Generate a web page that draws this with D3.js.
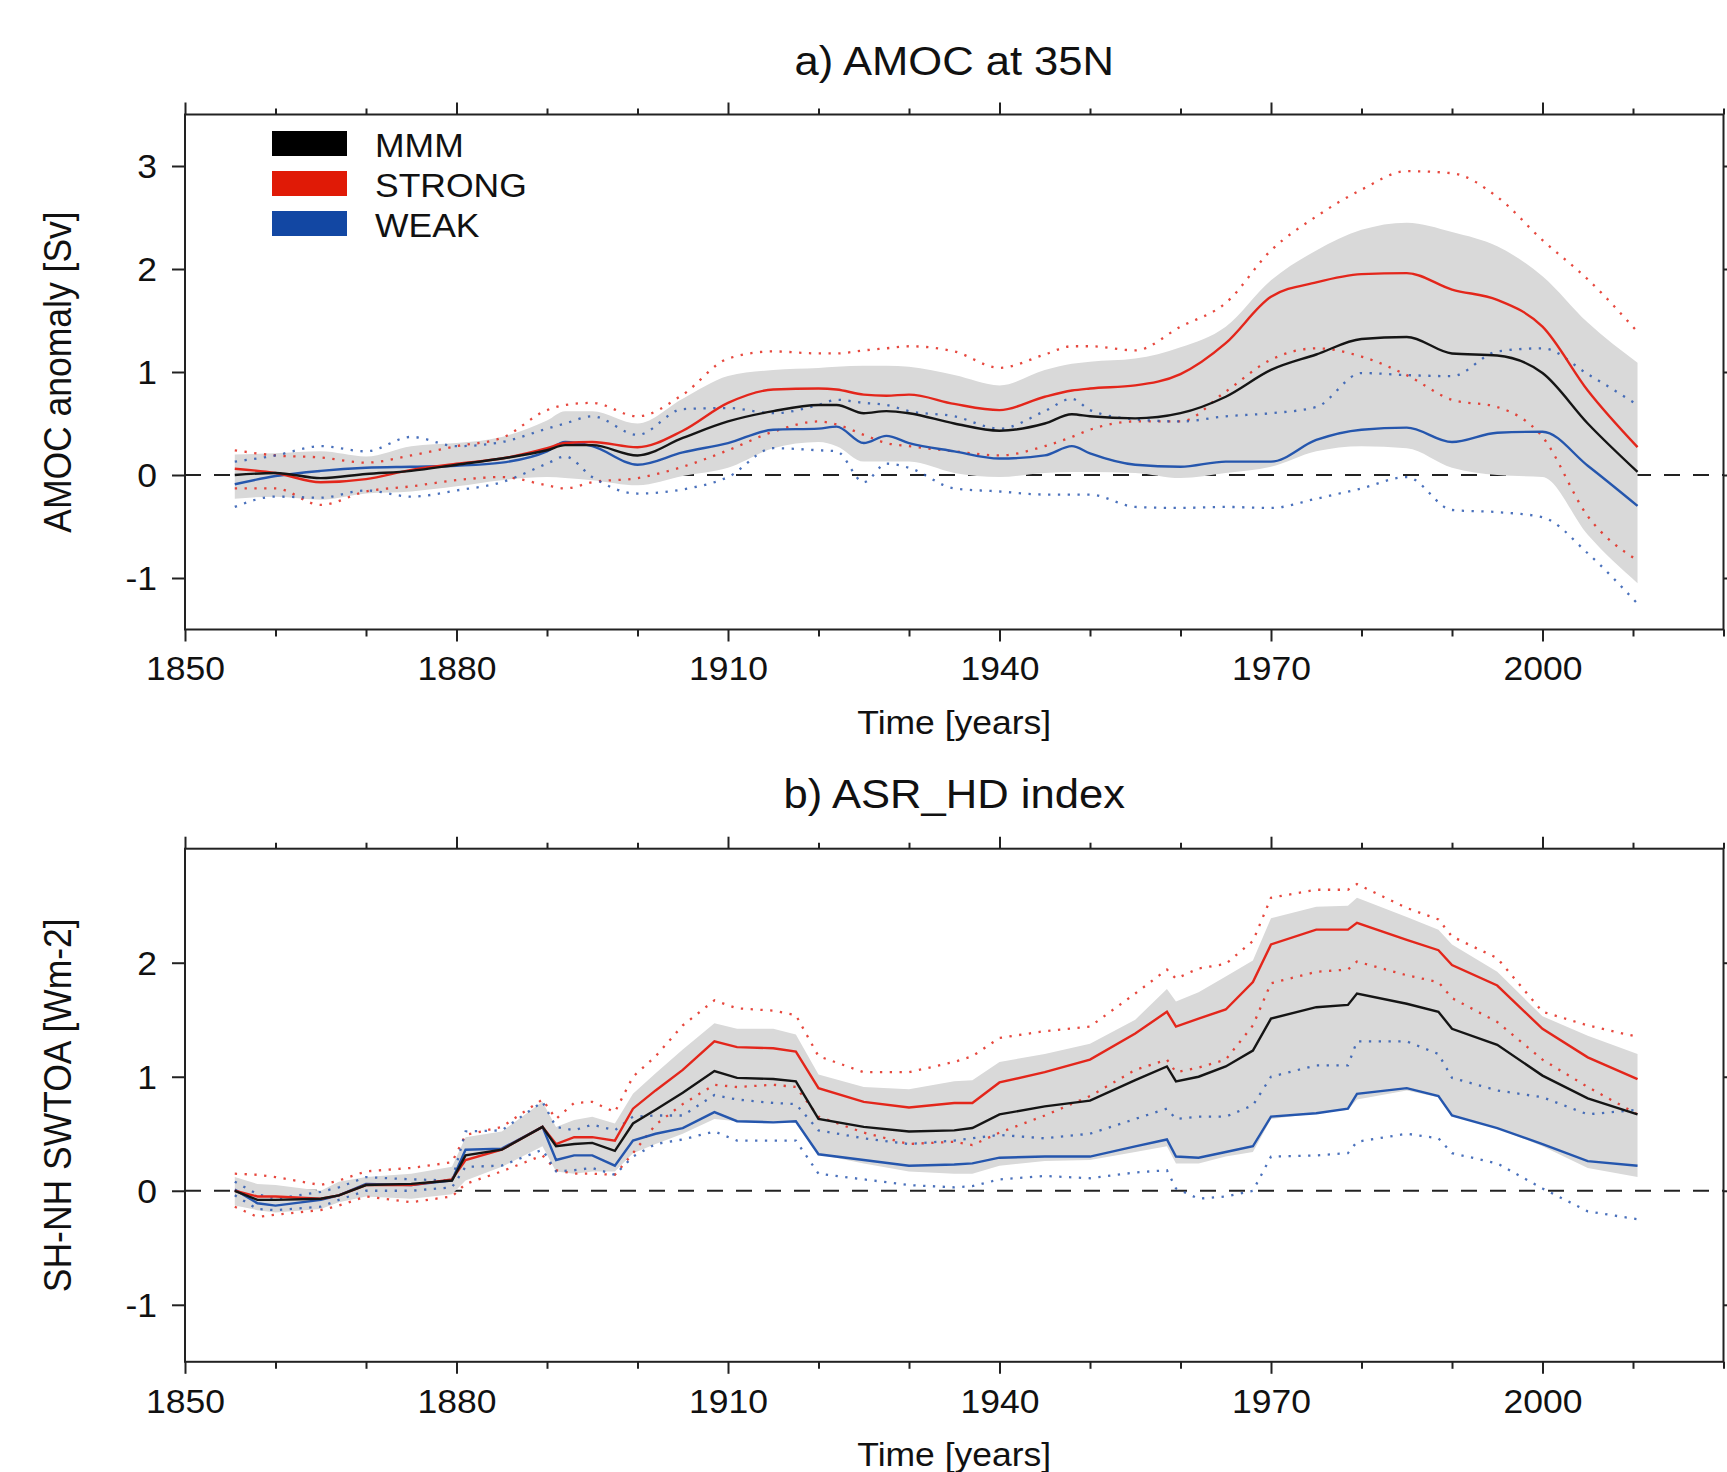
<!DOCTYPE html>
<html>
<head>
<meta charset="utf-8">
<script src="https://cdn.jsdelivr.net/npm/d3@7"></script>
<style>
  body { margin: 0; background: #fff; }
  svg { display: block; font-family: "Liberation Sans", Arial, sans-serif; }
</style>
</head>
<body>
<script>
// ---- panel a: AMOC at 35N ----
const amocYears = [1855.5, 1860, 1865, 1870, 1875, 1880, 1885, 1890, 1892, 1895, 1900, 1905, 1910, 1915, 1920, 1922, 1925, 1927.5, 1930, 1935, 1940, 1945, 1948, 1950, 1955, 1960, 1965, 1970, 1975, 1980, 1985, 1990, 1995, 2000, 2005, 2010.5];
const amocMMM = [0, 0.02, -0.03, 0.01, 0.04, 0.10, 0.16, 0.24, 0.29, 0.29, 0.19, 0.36, 0.52, 0.62, 0.68, 0.68, 0.60, 0.62, 0.60, 0.50, 0.43, 0.50, 0.59, 0.57, 0.55, 0.60, 0.76, 1.02, 1.17, 1.32, 1.34, 1.18, 1.16, 0.99, 0.50, 0.03];
const amocStrong = [0.06, 0.02, -0.07, -0.04, 0.05, 0.11, 0.16, 0.26, 0.31, 0.32, 0.27, 0.43, 0.70, 0.83, 0.84, 0.83, 0.78, 0.77, 0.78, 0.69, 0.63, 0.76, 0.82, 0.84, 0.87, 0.98, 1.28, 1.73, 1.87, 1.95, 1.96, 1.80, 1.70, 1.44, 0.82, 0.27];
const amocWeak = [-0.09, -0.01, 0.04, 0.07, 0.08, 0.09, 0.12, 0.23, 0.32, 0.28, 0.10, 0.22, 0.31, 0.44, 0.45, 0.47, 0.31, 0.38, 0.31, 0.23, 0.16, 0.19, 0.28, 0.21, 0.10, 0.08, 0.13, 0.13, 0.34, 0.44, 0.46, 0.32, 0.41, 0.42, 0.09, -0.30];
const amocBandHi = [0.20, 0.21, 0.23, 0.18, 0.28, 0.31, 0.37, 0.53, 0.62, 0.62, 0.50, 0.74, 0.96, 1.02, 1.04, 1.05, 1.06, 1.06, 1.05, 0.97, 0.87, 1.02, 1.08, 1.10, 1.13, 1.24, 1.44, 1.89, 2.18, 2.38, 2.45, 2.36, 2.22, 1.93, 1.48, 1.09];
const amocBandLo = [-0.23, -0.21, -0.24, -0.18, -0.16, -0.11, -0.05, -0.02, -0.03, -0.05, -0.10, -0.01, 0.07, 0.26, 0.32, 0.28, 0.13, 0.13, 0.13, 0.02, -0.02, 0.02, 0.03, 0.03, 0.02, -0.03, 0.02, 0.08, 0.23, 0.28, 0.26, 0.07, 0.00, -0.02, -0.58, -1.05];
const amocStrongHi = [0.24, 0.19, 0.17, 0.12, 0.19, 0.28, 0.36, 0.63, 0.68, 0.70, 0.57, 0.78, 1.13, 1.20, 1.18, 1.18, 1.21, 1.23, 1.25, 1.20, 1.04, 1.17, 1.25, 1.25, 1.21, 1.44, 1.67, 2.18, 2.51, 2.77, 2.95, 2.93, 2.70, 2.28, 1.90, 1.39];
const amocStrongLo = [-0.13, -0.13, -0.29, -0.16, -0.11, -0.05, -0.02, -0.10, -0.13, -0.07, -0.03, 0.08, 0.24, 0.42, 0.52, 0.49, 0.39, 0.31, 0.28, 0.23, 0.19, 0.28, 0.37, 0.44, 0.52, 0.52, 0.81, 1.12, 1.23, 1.15, 0.97, 0.73, 0.66, 0.37, -0.40, -0.83];
const amocWeakHi = [0.13, 0.19, 0.28, 0.23, 0.37, 0.28, 0.32, 0.45, 0.50, 0.57, 0.39, 0.64, 0.65, 0.60, 0.68, 0.73, 0.70, 0.68, 0.62, 0.57, 0.45, 0.62, 0.74, 0.63, 0.54, 0.52, 0.57, 0.60, 0.66, 0.99, 0.97, 0.96, 1.20, 1.23, 0.98, 0.68];
const amocWeakLo = [-0.31, -0.21, -0.22, -0.15, -0.21, -0.15, -0.07, 0.11, 0.18, -0.02, -0.18, -0.14, -0.02, 0.26, 0.24, 0.23, -0.07, 0.11, 0.07, -0.13, -0.16, -0.19, -0.19, -0.19, -0.31, -0.32, -0.31, -0.32, -0.23, -0.13, -0.02, -0.34, -0.36, -0.41, -0.76, -1.25];

// ---- panel b: ASR_HD index ----
const asrYears = [1855.5, 1858, 1860, 1865, 1867, 1870, 1875, 1879.5, 1881, 1885, 1889.5, 1891, 1893, 1895, 1897.5, 1899.5, 1902, 1905, 1908.5, 1911, 1915, 1917.5, 1920, 1925, 1930, 1935, 1937, 1940, 1945, 1950, 1955, 1958.5, 1959.5, 1962, 1965, 1968, 1970, 1975, 1978.5, 1979.5, 1985, 1988.5, 1990, 1995, 2000, 2005, 2010.5];
const asrMMM = [0.00, -0.08, -0.08, -0.07, -0.04, 0.05, 0.06, 0.09, 0.31, 0.36, 0.56, 0.39, 0.41, 0.42, 0.35, 0.59, 0.71, 0.86, 1.05, 0.99, 0.98, 0.96, 0.63, 0.56, 0.52, 0.53, 0.55, 0.67, 0.74, 0.79, 0.97, 1.09, 0.96, 1.00, 1.09, 1.23, 1.51, 1.61, 1.63, 1.73, 1.64, 1.57, 1.42, 1.28, 1.01, 0.81, 0.67];
const asrStrong = [0.00, -0.05, -0.05, -0.07, -0.04, 0.05, 0.05, 0.10, 0.27, 0.36, 0.56, 0.41, 0.47, 0.47, 0.44, 0.72, 0.88, 1.06, 1.31, 1.26, 1.25, 1.22, 0.90, 0.78, 0.73, 0.77, 0.77, 0.95, 1.04, 1.15, 1.38, 1.57, 1.44, 1.51, 1.59, 1.83, 2.16, 2.29, 2.29, 2.35, 2.20, 2.11, 1.98, 1.80, 1.42, 1.17, 0.98];
const asrWeak = [0.01, -0.11, -0.13, -0.08, -0.04, 0.06, 0.05, 0.09, 0.36, 0.37, 0.56, 0.27, 0.31, 0.31, 0.22, 0.44, 0.50, 0.55, 0.69, 0.61, 0.60, 0.61, 0.32, 0.27, 0.22, 0.23, 0.24, 0.29, 0.30, 0.30, 0.39, 0.45, 0.30, 0.29, 0.34, 0.39, 0.65, 0.68, 0.72, 0.85, 0.90, 0.83, 0.66, 0.55, 0.41, 0.26, 0.22];
const asrBandHi = [0.12, 0.06, 0.05, 0.00, 0.08, 0.12, 0.15, 0.21, 0.47, 0.52, 0.78, 0.56, 0.62, 0.65, 0.59, 0.85, 1.03, 1.24, 1.47, 1.42, 1.42, 1.37, 1.02, 0.91, 0.89, 0.96, 0.97, 1.13, 1.20, 1.29, 1.50, 1.77, 1.66, 1.74, 1.88, 2.02, 2.39, 2.49, 2.50, 2.57, 2.40, 2.29, 2.16, 1.92, 1.53, 1.36, 1.20];
const asrBandLo = [-0.13, -0.17, -0.19, -0.16, -0.10, -0.05, -0.07, -0.03, 0.09, 0.21, 0.39, 0.17, 0.15, 0.17, 0.17, 0.33, 0.41, 0.50, 0.63, 0.61, 0.60, 0.60, 0.32, 0.24, 0.17, 0.15, 0.15, 0.22, 0.26, 0.27, 0.34, 0.39, 0.24, 0.24, 0.30, 0.34, 0.63, 0.68, 0.71, 0.80, 0.88, 0.82, 0.66, 0.55, 0.39, 0.20, 0.12];
const asrStrongHi = [0.15, 0.14, 0.12, 0.05, 0.09, 0.17, 0.20, 0.25, 0.49, 0.56, 0.80, 0.63, 0.77, 0.78, 0.69, 1.00, 1.18, 1.45, 1.67, 1.60, 1.58, 1.54, 1.18, 1.04, 1.04, 1.13, 1.18, 1.34, 1.40, 1.44, 1.73, 1.94, 1.86, 1.95, 1.99, 2.19, 2.57, 2.64, 2.64, 2.69, 2.48, 2.38, 2.23, 2.04, 1.57, 1.45, 1.35];
const asrStrongLo = [-0.14, -0.23, -0.21, -0.17, -0.13, -0.05, -0.10, -0.05, 0.06, 0.17, 0.31, 0.18, 0.15, 0.15, 0.14, 0.33, 0.58, 0.76, 0.93, 0.91, 0.93, 0.91, 0.65, 0.51, 0.41, 0.43, 0.40, 0.51, 0.66, 0.83, 1.06, 1.15, 1.04, 1.08, 1.15, 1.45, 1.82, 1.92, 1.94, 2.01, 1.89, 1.83, 1.69, 1.48, 1.15, 0.91, 0.67];
const asrWeakHi = [0.08, -0.03, -0.07, -0.01, 0.03, 0.12, 0.10, 0.09, 0.52, 0.53, 0.78, 0.56, 0.53, 0.58, 0.53, 0.65, 0.66, 0.66, 0.84, 0.80, 0.77, 0.76, 0.53, 0.46, 0.41, 0.44, 0.46, 0.49, 0.46, 0.50, 0.63, 0.72, 0.63, 0.65, 0.65, 0.75, 1.00, 1.10, 1.10, 1.31, 1.31, 1.20, 0.99, 0.88, 0.82, 0.67, 0.71];
const asrWeakLo = [-0.04, -0.16, -0.17, -0.14, -0.08, 0.00, 0.00, 0.03, 0.21, 0.22, 0.36, 0.17, 0.18, 0.20, 0.14, 0.30, 0.41, 0.45, 0.52, 0.44, 0.44, 0.44, 0.15, 0.10, 0.05, 0.03, 0.04, 0.10, 0.13, 0.11, 0.16, 0.18, 0.02, -0.07, -0.05, 0.00, 0.30, 0.31, 0.33, 0.43, 0.50, 0.46, 0.33, 0.24, 0.02, -0.18, -0.25];

// ---- ticks and legend ----
const xTicks = d3.range(1850, 2021, 10);
const amocYTicks = [-1, 0, 1, 2, 3];
const asrYTicks = [-1, 0, 1, 2];
const legendNames = ["MMM", "STRONG", "WEAK"];
const legendColors = ["#000000", "#e01a06", "#1247a3"];

const width = 1727;
const height = 1472;
const plotLeft = 185;
const plotRight = 1723.5;
const midX = (plotLeft + plotRight) / 2;
const stretch = 1.076; // the original figure is a bit wider than tall
const ink = "#222";

const svg = d3.select("body")
  .append("svg")
  .attr("width", width)
  .attr("height", height);

const x = d3.scaleLinear().domain([1850, 2020]).range([plotLeft, plotRight]);
const isMajor = d => (d - 1850) % 30 === 0;

function addText(sel, px, py, str, size, anchor) {
  return sel.append("text")
    .attr("transform", `translate(${px},${py}) scale(${stretch},1)`)
    .attr("text-anchor", anchor)
    .attr("fill", "#111")
    .style("font-size", size + "px")
    .text(str);
}

// clean up the look of a d3 axis group
function styleAxis(ax) {
  ax.attr("font-family", null).attr("font-size", null);
  ax.select(".domain").remove();
  ax.selectAll(".tick line").attr("stroke", ink).attr("stroke-width", 2);
  ax.selectAll(".tick text")
    .attr("fill", "#111")
    .attr("transform", `scale(${stretch},1)`)
    .style("font-size", "33px");
}

function drawPanel(p) {
  const y = d3.scaleLinear().domain(p.yDomain).range([p.bottom, p.top]);
  const g = svg.append("g");

  const rows = p.years.map((yr, i) => ({
    yr: yr,
    mmm: p.mmm[i], strong: p.strong[i], weak: p.weak[i],
    lo: p.bandLo[i], hi: p.bandHi[i],
    sLo: p.strongLo[i], sHi: p.strongHi[i],
    wLo: p.weakLo[i], wHi: p.weakHi[i]
  }));

  // zero line sits under the spread band
  g.append("line")
    .attr("x1", x(1850)).attr("x2", x(2020))
    .attr("y1", y(0)).attr("y2", y(0))
    .attr("stroke", ink)
    .attr("stroke-width", 2)
    .attr("stroke-dasharray", "16,13");

  const area = d3.area()
    .x(d => x(d.yr))
    .y0(d => y(d.lo))
    .y1(d => y(d.hi))
    .curve(p.curve);

  g.append("path").datum(rows).attr("d", area).attr("fill", "#d9d9d9");

  function drawLine(key, color, w, dash, opacity) {
    const line = d3.line().x(d => x(d.yr)).y(d => y(d[key])).curve(p.curve);
    g.append("path")
      .datum(rows)
      .attr("d", line)
      .attr("fill", "none")
      .attr("stroke", color)
      .attr("stroke-width", w)
      .attr("stroke-dasharray", dash)
      .attr("stroke-opacity", opacity);
  }

  // dotted spread of the strong and weak groups
  drawLine("sHi", "#e3281c", 2.3, "2.3,7.5", 0.85);
  drawLine("sLo", "#e3281c", 2.3, "2.3,7.5", 0.85);
  drawLine("wHi", "#2a58b0", 2.3, "2.3,7.5", 0.85);
  drawLine("wLo", "#2a58b0", 2.3, "2.3,7.5", 0.85);

  // group means
  drawLine("weak", "#2556ad", 2.4, null, 1);
  drawLine("strong", "#e3261b", 2.4, null, 1);
  drawLine("mmm", "#151515", 2.4, null, 1);

  // frame
  g.append("rect")
    .attr("x", plotLeft).attr("y", p.top)
    .attr("width", plotRight - plotLeft).attr("height", p.bottom - p.top)
    .attr("fill", "none")
    .attr("stroke", ink)
    .attr("stroke-width", 2);

  g.append("g")
    .attr("transform", `translate(0,${p.bottom})`)
    .call(d3.axisBottom(x).tickValues(xTicks).tickSizeOuter(0).tickFormat(d => isMajor(d) ? d : ""))
    .call(styleAxis)
    .call(ax => {
      ax.selectAll(".tick line").attr("y2", d => isMajor(d) ? 12 : 7);
      ax.selectAll(".tick text").attr("y", 51).attr("dy", null);
    });

  g.append("g")
    .attr("transform", `translate(0,${p.top})`)
    .call(d3.axisTop(x).tickValues(xTicks).tickSizeOuter(0).tickFormat(""))
    .call(styleAxis)
    .call(ax => ax.selectAll(".tick line").attr("y2", d => isMajor(d) ? -12 : -6));

  g.append("g")
    .attr("transform", `translate(${plotLeft},0)`)
    .call(d3.axisLeft(y).tickValues(p.yTicks).tickSize(13).tickSizeOuter(0).tickFormat(d => String(d)))
    .call(styleAxis)
    .call(ax => ax.selectAll(".tick text").attr("x", -26).attr("dy", "0.35em"));

  g.append("g")
    .attr("transform", `translate(${plotRight},0)`)
    .call(d3.axisRight(y).tickValues(p.yTicks).tickSize(12).tickSizeOuter(0).tickFormat(""))
    .call(styleAxis);

  addText(svg, midX, p.titleY, p.title, 40.5, "middle");
  addText(svg, midX, p.bottom + 104.5, "Time [years]", 33, "middle");

  svg.append("text")
    .attr("transform", `translate(71,${(p.top + p.bottom) / 2}) rotate(-90) scale(1,${stretch})`)
    .attr("text-anchor", "middle")
    .attr("fill", "#111")
    .style("font-size", "35.5px")
    .text(p.yLabel);

  if (p.legend) {
    legendNames.forEach((name, i) => {
      const top = 131 + i * 40;
      svg.append("rect")
        .attr("x", 272).attr("y", top)
        .attr("width", 75).attr("height", 25)
        .attr("fill", legendColors[i]);
      addText(svg, 375, top + 25.5, name, 33, "start");
    });
  }
}

drawPanel({
  title: "a) AMOC at 35N",
  titleY: 75,
  yLabel: "AMOC anomaly [Sv]",
  top: 114.5,
  bottom: 629.5,
  yDomain: [-1.5, 3.5],
  yTicks: amocYTicks,
  years: amocYears,
  mmm: amocMMM, strong: amocStrong, weak: amocWeak,
  bandLo: amocBandLo, bandHi: amocBandHi,
  strongLo: amocStrongLo, strongHi: amocStrongHi,
  weakLo: amocWeakLo, weakHi: amocWeakHi,
  curve: d3.curveMonotoneX,
  legend: true
});

drawPanel({
  title: "b) ASR_HD index",
  titleY: 808,
  yLabel: "SH-NH SWTOA [Wm-2]",
  top: 848.7,
  bottom: 1361.8,
  yDomain: [-1.5, 3],
  yTicks: asrYTicks,
  years: asrYears,
  mmm: asrMMM, strong: asrStrong, weak: asrWeak,
  bandLo: asrBandLo, bandHi: asrBandHi,
  strongLo: asrStrongLo, strongHi: asrStrongHi,
  weakLo: asrWeakLo, weakHi: asrWeakHi,
  curve: d3.curveLinear,
  legend: false
});
</script>
</body>
</html>
